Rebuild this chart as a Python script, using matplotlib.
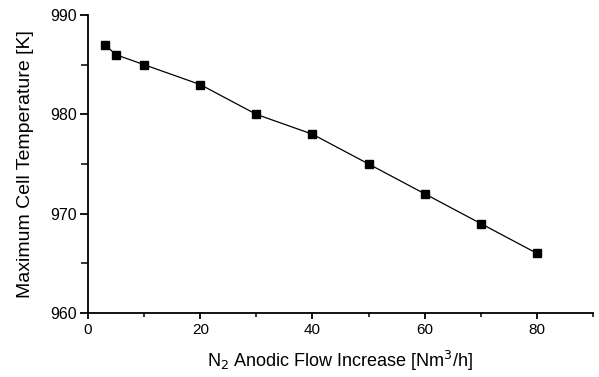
import matplotlib
matplotlib.use("Agg")
import matplotlib.pyplot as plt
from matplotlib.ticker import MultipleLocator

plt.rcParams['font.family'] = ['Liberation Sans', 'DejaVu Sans']

# data
flow_increase = [3, 5, 10, 20, 30, 40, 50, 60, 70, 80]
max_temp = [987, 986, 985, 983, 980, 978, 975, 972, 969, 966]

fig = plt.figure(figsize=(5.99, 3.77), dpi=100)
ax = fig.add_axes([0.147, 0.170, 0.843, 0.790])

ax.plot(flow_increase, max_temp, color='black', linewidth=0.9,
        marker='s', markersize=5.5, markerfacecolor='black', markeredgecolor='black')

ax.set_xlim(0, 90)
ax.set_ylim(960, 990)
ax.xaxis.set_major_locator(MultipleLocator(20))
ax.xaxis.set_minor_locator(MultipleLocator(10))
ax.yaxis.set_major_locator(MultipleLocator(10))
ax.yaxis.set_minor_locator(MultipleLocator(5))

ax.spines['top'].set_visible(False)
ax.spines['right'].set_visible(False)
for s in ('left', 'bottom'):
    ax.spines[s].set_linewidth(1.3)
ax.tick_params(axis='y', which='major', direction='out', length=6, width=1.3, labelsize=11.5, pad=2)
ax.tick_params(axis='y', which='minor', direction='out', length=5, width=1.1)
ax.tick_params(axis='x', which='major', direction='out', length=4, width=1.3, labelsize=11, pad=3)
ax.tick_params(axis='x', which='minor', direction='out', length=3, width=1.1)

ax.set_xlabel('N$_2$ Anodic Flow Increase [Nm$^3$/h]', fontsize=13, labelpad=9)
ax.set_ylabel('Maximum Cell Temperature [K]', fontsize=14, labelpad=12)

fig.savefig('out.png', dpi=100)
